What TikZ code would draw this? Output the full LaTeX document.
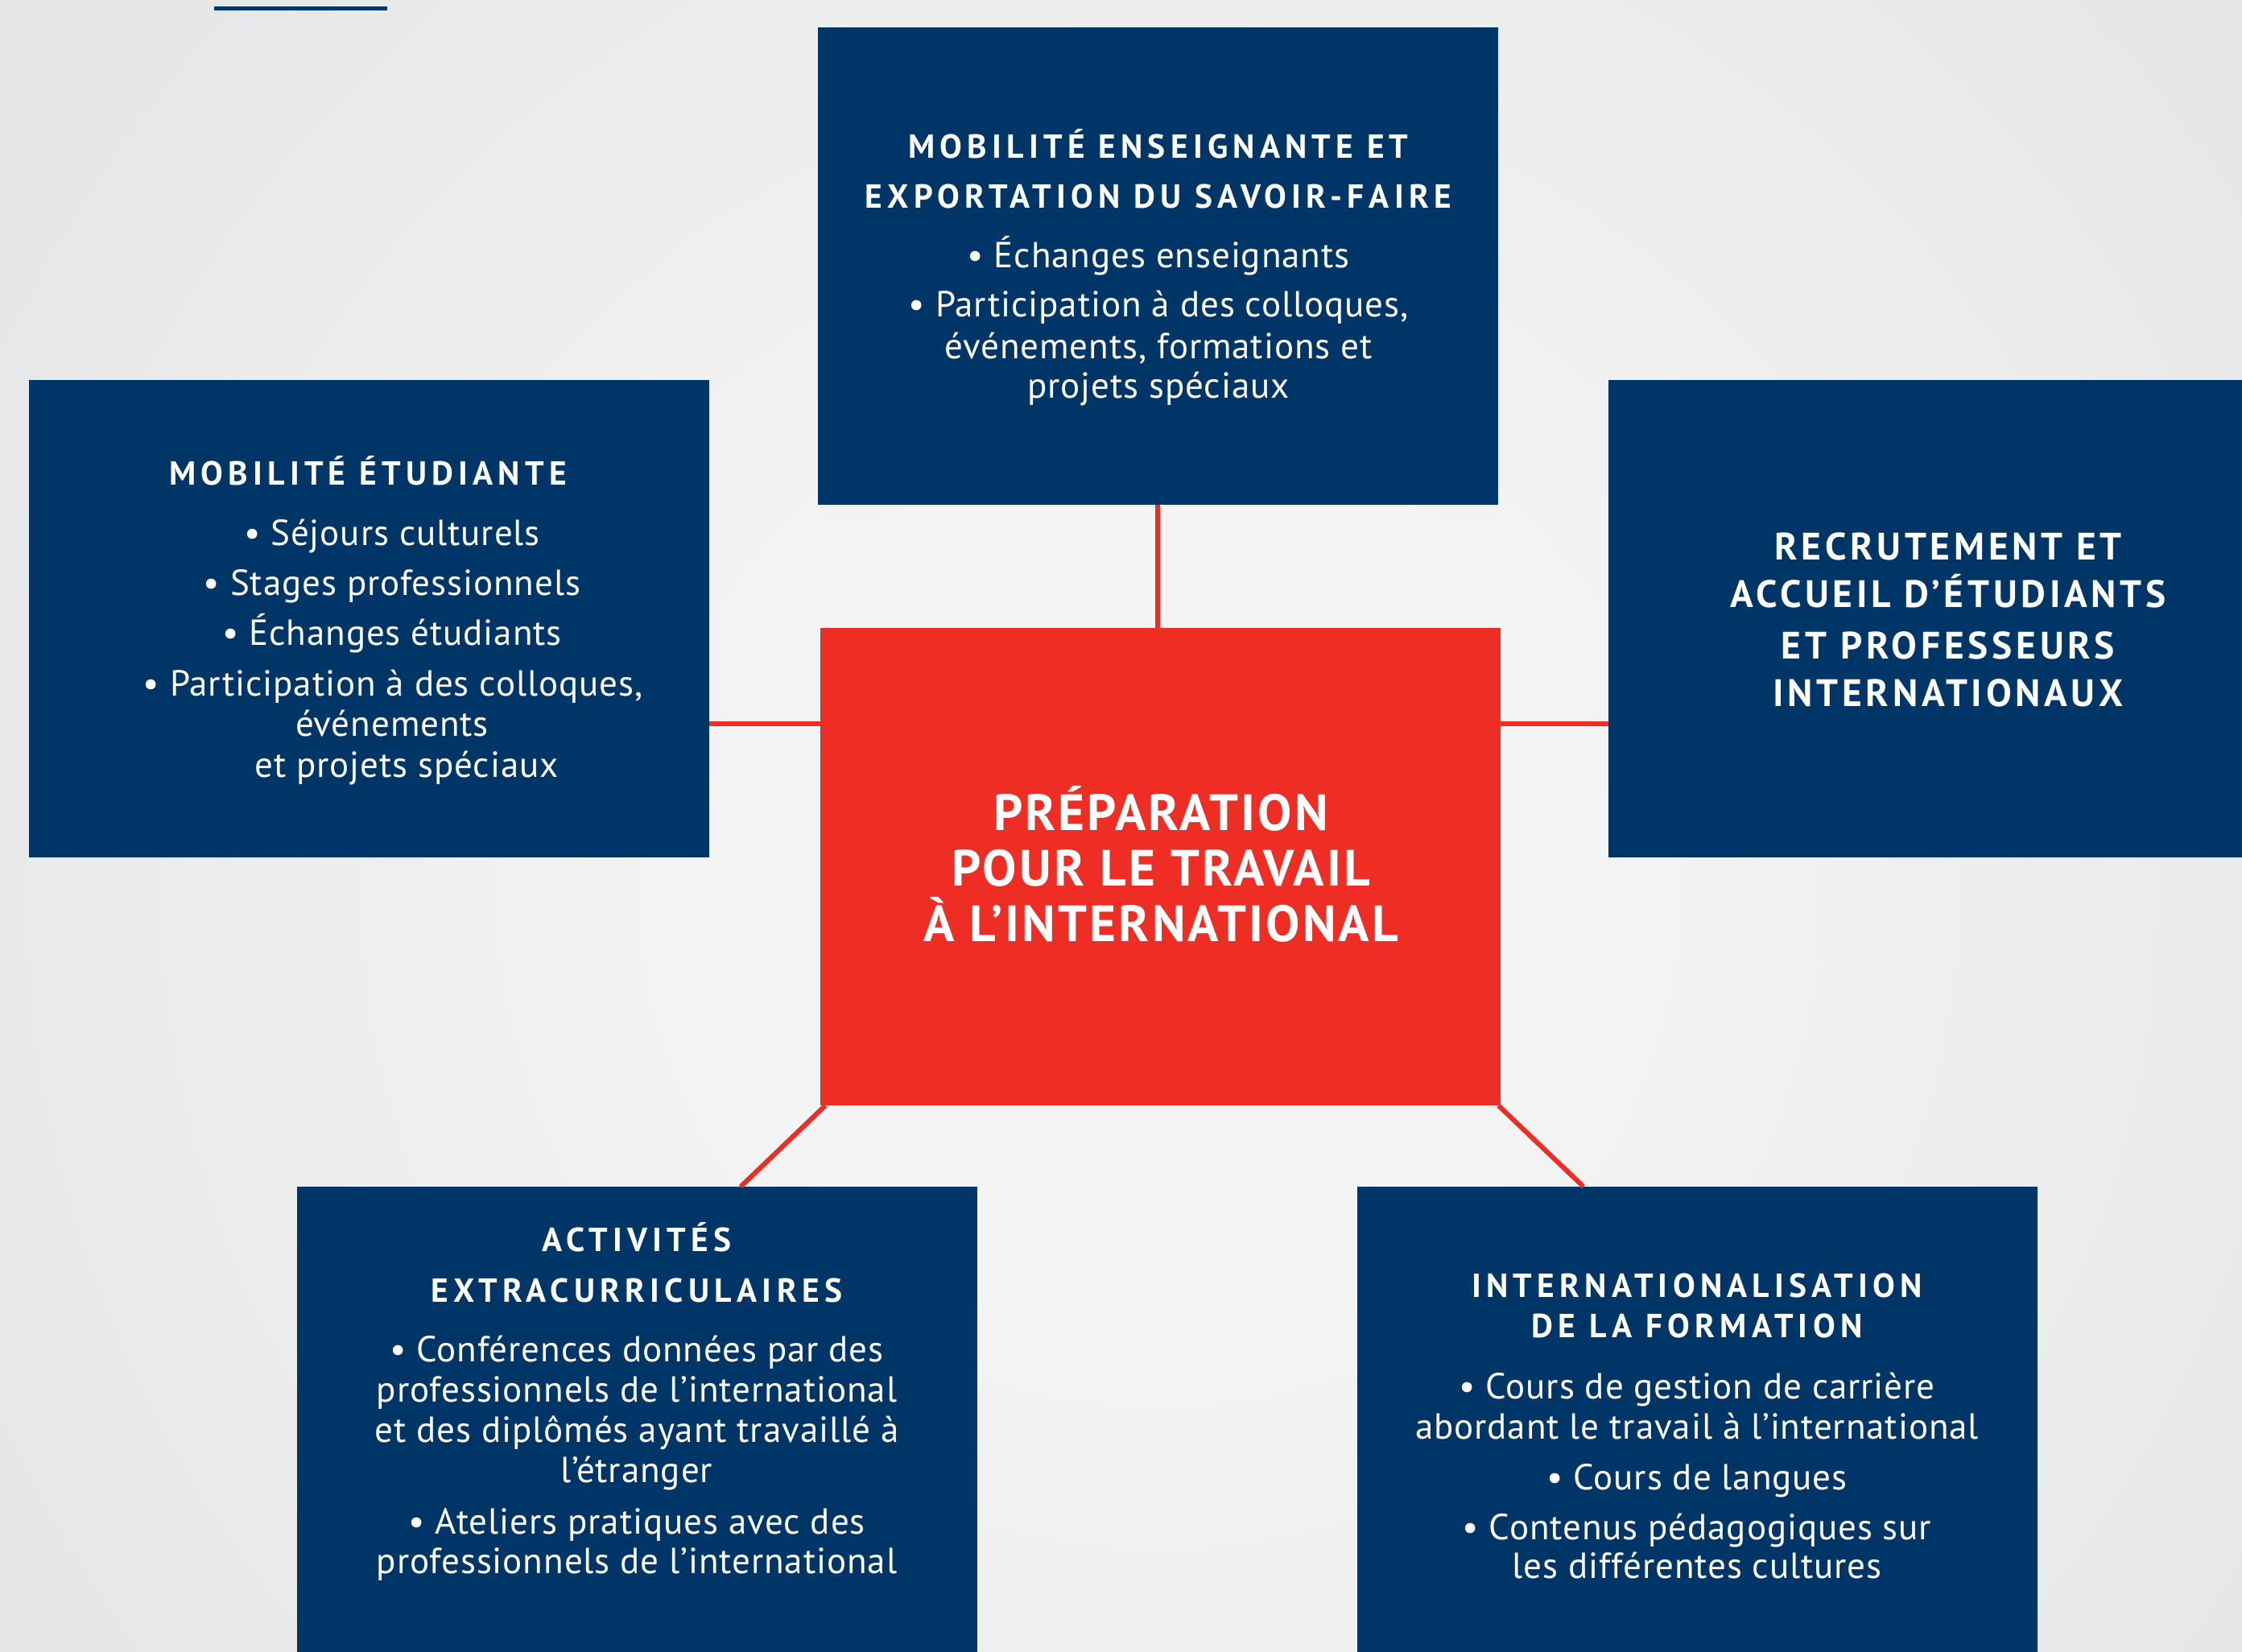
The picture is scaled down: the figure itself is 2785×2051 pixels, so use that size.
\documentclass[tikz,border=0pt]{standalone}
\usepackage{fontspec}
\setmainfont{PT Sans}
\newfontfamily\ttlfont[LetterSpace=15]{PT Sans}
\newfontfamily\ttlfontb[LetterSpace=10]{PT Sans}
\newfontfamily\ctrfont[LetterSpace=5]{PT Sans}
\newfontfamily\bdfont[LetterSpace=2]{PT Sans}
\usetikzlibrary{calc}
\definecolor{navy}{RGB}{0,53,103}
\definecolor{redc}{RGB}{238,46,36}
\definecolor{bgin}{RGB}{244,244,244}
\definecolor{bgout}{RGB}{210,211,214}
\pgfdeclareradialshading{bgshade}{\pgfpoint{0bp}{0bp}}{color(0bp)=(bgin); color(8bp)=(bgin); color(50bp)=(bgout)}
\begin{document}
\begin{tikzpicture}[x=0.01cm,y=-0.01cm,
  box/.style={rectangle, inner sep=0pt, outer sep=0pt, minimum width=8.44cm, minimum height=5.93cm, anchor=north west},
  navybox/.style={box, fill=navy},
  redbox/.style={box, fill=redc},
  conn/.style={draw=redc, line width=0.06cm},
  ttl/.style={anchor=base, text=white, inner sep=0pt, font=\ttlfont\bfseries\fontsize{11.8}{14}\selectfont},
  ttlr/.style={anchor=base, text=white, inner sep=0pt, font=\ttlfontb\bfseries\fontsize{13.5}{16}\selectfont},
  ctr/.style={anchor=base, text=white, inner sep=0pt, font=\ctrfont\bfseries\fontsize{18}{21}\selectfont},
  bd/.style={anchor=base, text=white, inner sep=0pt, font=\bdfont\fontsize{12.8}{15}\selectfont}]
\useasboundingbox (0,0) rectangle (2785,2051);
\clip (0,0) rectangle (2785,2051);
\shade[shading=bgshade] (-210,-550) rectangle (3090,2750);
\fill[navy] (266,8) rectangle (481,13);

% boxes
\node[navybox] (T) at (1016,34) {};
\node[navybox] (L) at (36,472) {};
\node[navybox] (R) at (1998,472) {};
\node[redbox] (C) at (1019,780) {};
\node[navybox] (BL) at (369,1474) {};
\node[navybox] (BR) at (1686,1474) {};

% connectors
\draw[conn] (T.south) -- (T.south |- C.north);
\draw[conn] ($(L.north east)+(0,427)$) -- ($(C.north west)+(0,119)$);
\draw[conn] ($(C.north east)+(0,119)$) -- ($(R.north west)+(0,427)$);
\draw[conn] ($(C.south west)+(6,0)$) -- ($(BL.north west)+(551,0)$);
\draw[conn] ($(C.south east)+(-2,0)$) -- ($(BR.north west)+(281,0)$);

% top box
\node[ttl] (t1) at (1439,196) {MOBILITÉ ENSEIGNANTE ET};
\node[ttl] (t2) at (1439,258) {EXPORTATION DU SAVOIR-FAIRE};
\node[bd] (t3) at (1439,332) {• Échanges enseignants};
\node[bd] (t4) at (1439,393) {• Participation à des colloques,};
\node[bd] (t5) at (1439,445) {événements, formations et};
\node[bd] (t6) at (1439,494) {projets spéciaux};

% left box
\node[ttl] (l1) at (457,602) {MOBILITÉ ÉTUDIANTE};
\node[bd] (l2) at (487,677) {• Séjours culturels};
\node[bd] (l3) at (487,739) {• Stages professionnels};
\node[bd] (l4) at (487,801) {• Échanges étudiants};
\node[bd] (l5) at (488,864) {• Participation à des colloques,};
\node[bd] (l6) at (487,914) {événements};
\node[bd] (l7) at (505,965) {et projets spéciaux};

% right box
\node[ttlr] (r1) at (2420,695) {RECRUTEMENT ET};
\node[ttlr] (r2) at (2420,754) {ACCUEIL D’ÉTUDIANTS};
\node[ttlr] (r3) at (2420,818) {ET PROFESSEURS};
\node[ttlr] (r4) at (2420,877) {INTERNATIONAUX};

% center
\node[ctr] (c1) at (1442,1031) {PRÉPARATION};
\node[ctr] (c2) at (1442,1100) {POUR LE TRAVAIL};
\node[ctr] (c3) at (1442,1169) {À L’INTERNATIONAL};

% bottom left
\node[ttl] (b1) at (791,1554) {ACTIVITÉS};
\node[ttl] (b2) at (791,1617) {EXTRACURRICULAIRES};
\node[bd] (b3) at (791,1691) {• Conférences données par des};
\node[bd] (b4) at (791,1741) {professionnels de l’international};
\node[bd] (b5) at (791,1791) {et des diplômés ayant travaillé à};
\node[bd] (b6) at (791,1841) {l’étranger};
\node[bd] (b7) at (791,1905) {• Ateliers pratiques avec des};
\node[bd] (b8) at (791,1954) {professionnels de l’international};

% bottom right
\node[ttl] (d1) at (2108,1611) {INTERNATIONALISATION};
\node[ttl] (d2) at (2108,1661) {DE LA FORMATION};
\node[bd] (d3) at (2108,1737) {• Cours de gestion de carrière};
\node[bd] (d4) at (2108,1787) {abordant le travail à l’international};
\node[bd] (d5) at (2108,1850) {• Cours de langues};
\node[bd] (d6) at (2108,1912) {• Contenus pédagogiques sur};
\node[bd] (d7) at (2108,1960) {les différentes cultures};
\end{tikzpicture}
\end{document}
